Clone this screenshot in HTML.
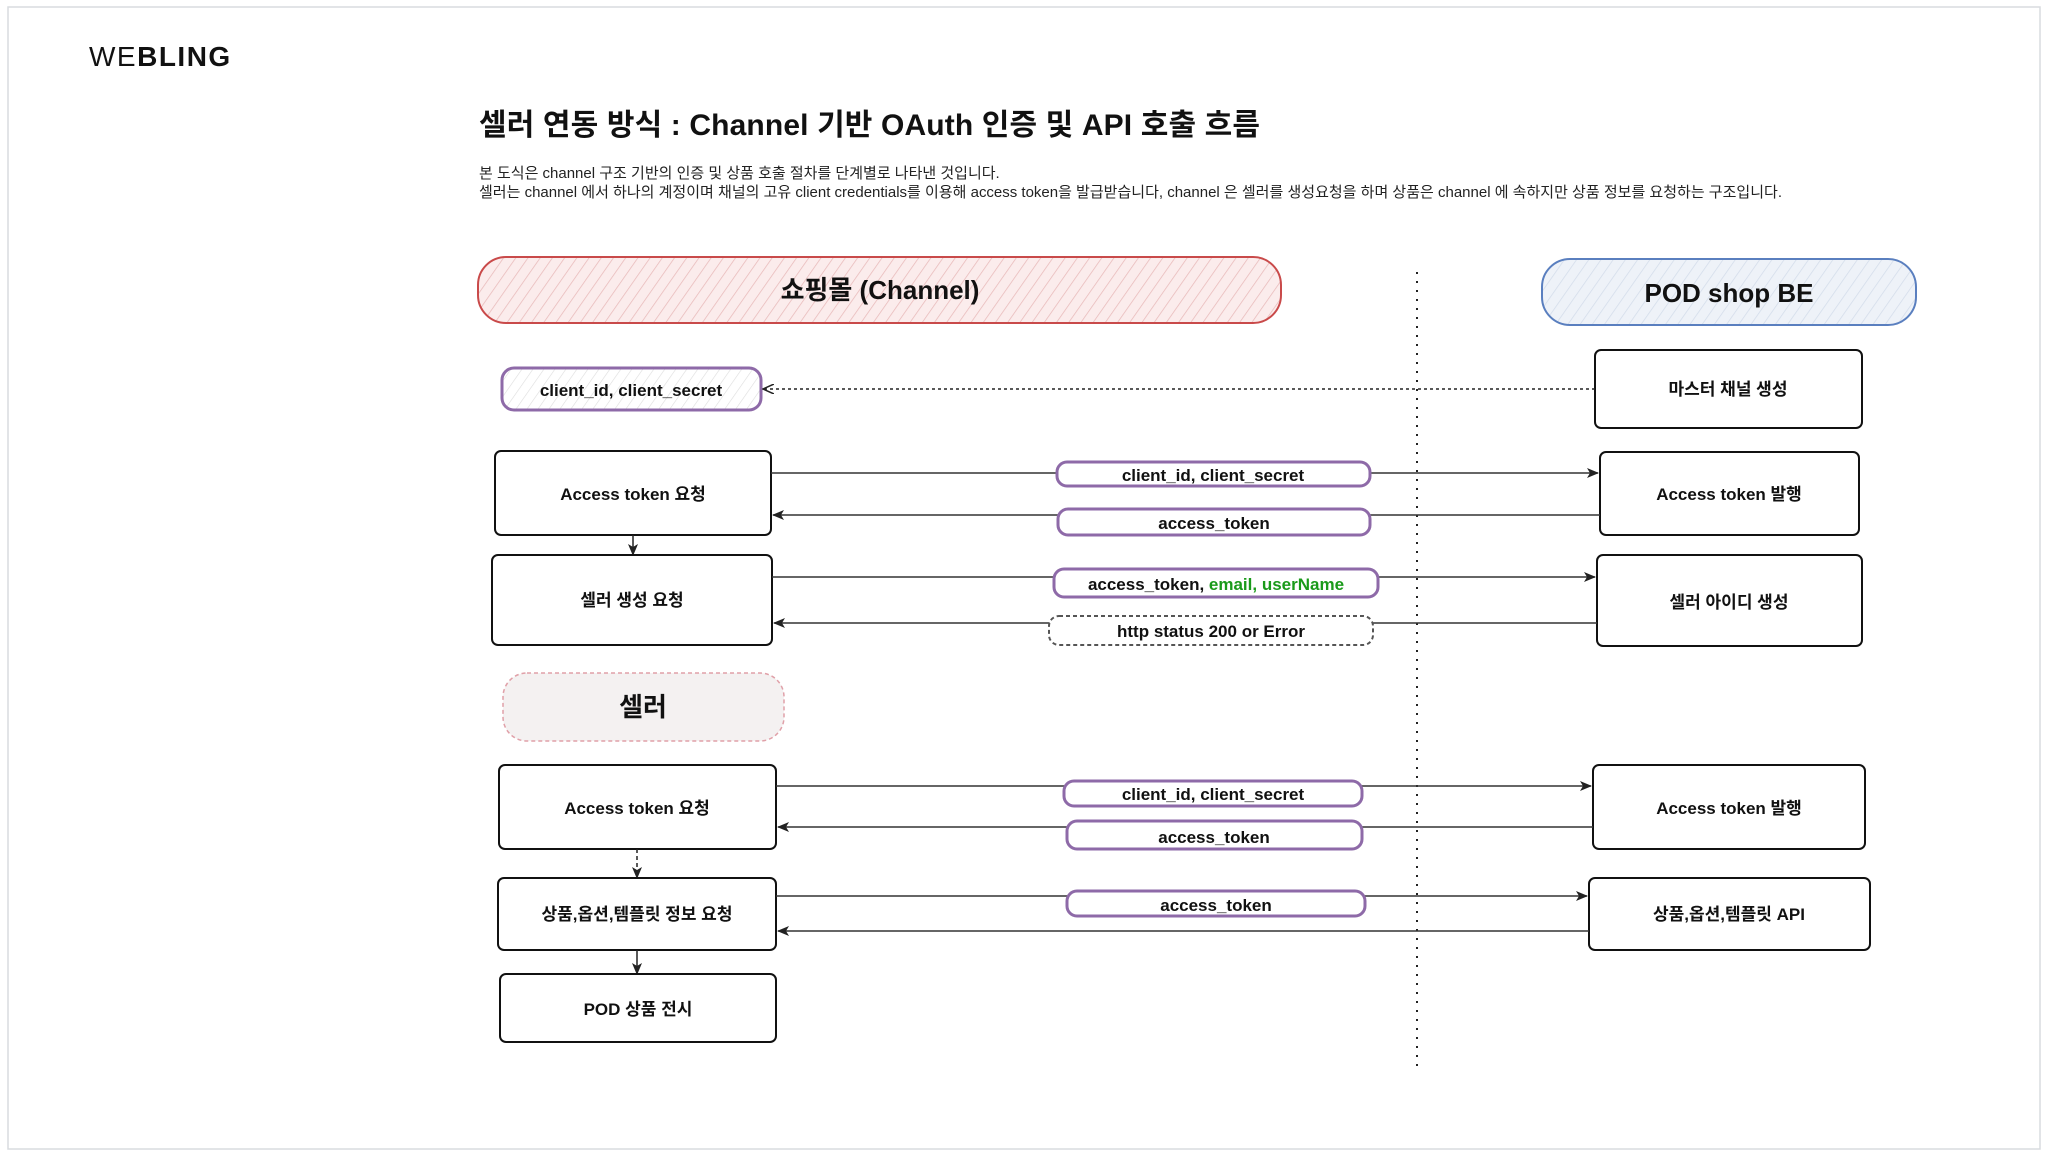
<!DOCTYPE html>
<html><head><meta charset="utf-8"><style>
html,body{margin:0;padding:0;background:#fff;width:2048px;height:1159px;overflow:hidden}
svg text{font-family:"Liberation Sans","Noto Sans CJK KR",sans-serif}
.h{font-family:"Liberation Sans","Noto Sans CJK KR",sans-serif;font-weight:bold;font-size:17px;fill:#111}
</style></head><body>
<svg width="2048" height="1159" viewBox="0 0 2048 1159" xmlns="http://www.w3.org/2000/svg">
<defs>
<pattern id="hr" width="10" height="10" patternUnits="userSpaceOnUse" patternTransform="rotate(35)"><rect width="10" height="10" fill="#fbecec"/><line x1="0" y1="0" x2="0" y2="10" stroke="#e8b9b9" stroke-width="1.5"/></pattern>
<pattern id="hb" width="10" height="10" patternUnits="userSpaceOnUse" patternTransform="rotate(35)"><rect width="10" height="10" fill="#eef2f8"/><line x1="0" y1="0" x2="0" y2="10" stroke="#d3dcea" stroke-width="1.5"/></pattern>
<pattern id="hp" width="9" height="9" patternUnits="userSpaceOnUse" patternTransform="rotate(35)"><rect width="9" height="9" fill="#fff"/><line x1="0" y1="0" x2="0" y2="9" stroke="#ddd" stroke-width="1.2"/></pattern>
<marker id="a" markerWidth="12" markerHeight="10" refX="11" refY="5" orient="auto" markerUnits="userSpaceOnUse"><path d="M0,0 L12,5 L0,10 L3,5 Z" fill="#222"/></marker>
<marker id="o" markerWidth="12" markerHeight="10" refX="11" refY="5" orient="auto" markerUnits="userSpaceOnUse"><path d="M0,0 L11,5 L0,10" fill="none" stroke="#222" stroke-width="1.5"/></marker>
</defs>
<rect x="8" y="7" width="2032" height="1142" fill="#fff" stroke="#d8dcdf" stroke-width="1.5"/>
<text x="89" y="66" font-size="28" fill="#111" letter-spacing="1.5">WE<tspan font-weight="bold">BLING</tspan></text>
<text x="479" y="135" font-size="30" font-weight="bold" fill="#111" textLength="781" lengthAdjust="spacing">셀러 연동 방식 : Channel 기반 OAuth 인증 및 API 호출 흐름</text>
<text x="479" y="178" font-size="15" fill="#222">본 도식은 channel 구조 기반의 인증 및 상품 호출 절차를 단계별로 나타낸 것입니다.</text>
<text x="479" y="197" font-size="15" fill="#222" textLength="1303" lengthAdjust="spacing">셀러는 channel 에서 하나의 계정이며 채널의 고유 client credentials를 이용해 access token을 발급받습니다, channel 은 셀러를 생성요청을 하며 상품은 channel 에 속하지만 상품 정보를 요청하는 구조입니다.</text>

<rect x="478" y="257" width="803" height="66" rx="28" fill="url(#hr)" stroke="#c94a4a" stroke-width="2"/>
<text x="880" y="299" text-anchor="middle" font-size="26" font-weight="bold" fill="#111">쇼핑몰 (Channel)</text>
<rect x="1542" y="259" width="374" height="66" rx="28" fill="url(#hb)" stroke="#5a7fbf" stroke-width="2"/>
<text x="1729" y="302" text-anchor="middle" font-size="26" font-weight="bold" fill="#111">POD shop BE</text>

<line x1="1417" y1="272" x2="1417" y2="1066" stroke="#222" stroke-width="2" stroke-dasharray="2,7"/>

<rect x="502" y="368" width="259" height="42" rx="12" fill="url(#hp)" stroke="#8e6aa8" stroke-width="3"/>
<text x="631" y="396" text-anchor="middle" class="h">client_id, client_secret</text>
<rect x="1595" y="350" width="267" height="78" rx="6" fill="#fff" stroke="#111" stroke-width="2"/>
<text x="1728" y="395" text-anchor="middle" class="h">마스터 채널 생성</text>
<line x1="1595" y1="389" x2="763" y2="389" stroke="#222" stroke-width="1.5" stroke-dasharray="3,3" marker-end="url(#o)"/>

<rect x="495" y="451" width="276" height="84" rx="6" fill="#fff" stroke="#111" stroke-width="2"/>
<text x="633" y="500" text-anchor="middle" class="h">Access token 요청</text>
<rect x="1600" y="452" width="259" height="83" rx="6" fill="#fff" stroke="#111" stroke-width="2"/>
<text x="1729" y="500" text-anchor="middle" class="h">Access token 발행</text>
<line x1="771" y1="473" x2="1598" y2="473" stroke="#333" stroke-width="1.5" marker-end="url(#a)"/>
<line x1="1600" y1="515" x2="773" y2="515" stroke="#333" stroke-width="1.5" marker-end="url(#a)"/>
<rect x="1057" y="462" width="313" height="24" rx="10" fill="#fff" stroke="#8e6aa8" stroke-width="3"/>
<text x="1213" y="481" text-anchor="middle" class="h">client_id, client_secret</text>
<rect x="1058" y="509" width="312" height="26" rx="10" fill="#fff" stroke="#8e6aa8" stroke-width="3"/>
<text x="1214" y="529" text-anchor="middle" class="h">access_token</text>
<line x1="633" y1="535" x2="633" y2="555" stroke="#222" stroke-width="1.5" marker-end="url(#a)"/>

<rect x="492" y="555" width="280" height="90" rx="6" fill="#fff" stroke="#111" stroke-width="2"/>
<text x="632" y="606" text-anchor="middle" class="h">셀러 생성 요청</text>
<rect x="1597" y="555" width="265" height="91" rx="6" fill="#fff" stroke="#111" stroke-width="2"/>
<text x="1729" y="608" text-anchor="middle" class="h">셀러 아이디 생성</text>
<line x1="772" y1="577" x2="1595" y2="577" stroke="#333" stroke-width="1.5" marker-end="url(#a)"/>
<line x1="1597" y1="623" x2="774" y2="623" stroke="#333" stroke-width="1.5" marker-end="url(#a)"/>
<rect x="1054" y="569" width="324" height="28" rx="10" fill="#fff" stroke="#8e6aa8" stroke-width="3"/>
<text x="1216" y="590" text-anchor="middle" class="h">access_token, <tspan fill="#1a9a1a">email, userName</tspan></text>
<rect x="1049" y="616" width="324" height="29" rx="10" fill="#fff" stroke="#555" stroke-width="2" stroke-dasharray="4,3"/>
<text x="1211" y="637" text-anchor="middle" class="h">http status 200 or Error</text>

<rect x="503" y="673" width="281" height="68" rx="24" fill="#f4f1f1" stroke="#e0a0a8" stroke-width="1.5" stroke-dasharray="4,3"/>
<text x="643" y="716" text-anchor="middle" font-size="26" font-weight="bold" fill="#111">셀러</text>

<rect x="499" y="765" width="277" height="84" rx="6" fill="#fff" stroke="#111" stroke-width="2"/>
<text x="637" y="814" text-anchor="middle" class="h">Access token 요청</text>
<rect x="1593" y="765" width="272" height="84" rx="6" fill="#fff" stroke="#111" stroke-width="2"/>
<text x="1729" y="814" text-anchor="middle" class="h">Access token 발행</text>
<line x1="776" y1="786" x2="1591" y2="786" stroke="#333" stroke-width="1.5" marker-end="url(#a)"/>
<line x1="1593" y1="827" x2="778" y2="827" stroke="#333" stroke-width="1.5" marker-end="url(#a)"/>
<rect x="1064" y="781" width="298" height="25" rx="10" fill="#fff" stroke="#8e6aa8" stroke-width="3"/>
<text x="1213" y="800" text-anchor="middle" class="h">client_id, client_secret</text>
<rect x="1067" y="821" width="295" height="28" rx="10" fill="#fff" stroke="#8e6aa8" stroke-width="3"/>
<text x="1214" y="843" text-anchor="middle" class="h">access_token</text>
<line x1="637" y1="849" x2="637" y2="878" stroke="#222" stroke-width="1.5" stroke-dasharray="4,3" marker-end="url(#a)"/>

<rect x="498" y="878" width="278" height="72" rx="6" fill="#fff" stroke="#111" stroke-width="2"/>
<text x="637" y="920" text-anchor="middle" class="h">상품,옵션,템플릿 정보 요청</text>
<rect x="1589" y="878" width="281" height="72" rx="6" fill="#fff" stroke="#111" stroke-width="2"/>
<text x="1729" y="920" text-anchor="middle" class="h">상품,옵션,템플릿 API</text>
<line x1="776" y1="896" x2="1587" y2="896" stroke="#333" stroke-width="1.5" marker-end="url(#a)"/>
<line x1="1589" y1="931" x2="778" y2="931" stroke="#333" stroke-width="1.5" marker-end="url(#a)"/>
<rect x="1067" y="891" width="298" height="25" rx="10" fill="#fff" stroke="#8e6aa8" stroke-width="3"/>
<text x="1216" y="911" text-anchor="middle" class="h">access_token</text>
<line x1="637" y1="950" x2="637" y2="974" stroke="#222" stroke-width="1.5" marker-end="url(#a)"/>

<rect x="500" y="974" width="276" height="68" rx="6" fill="#fff" stroke="#111" stroke-width="2"/>
<text x="638" y="1015" text-anchor="middle" class="h">POD 상품 전시</text>
</svg>
</body></html>
